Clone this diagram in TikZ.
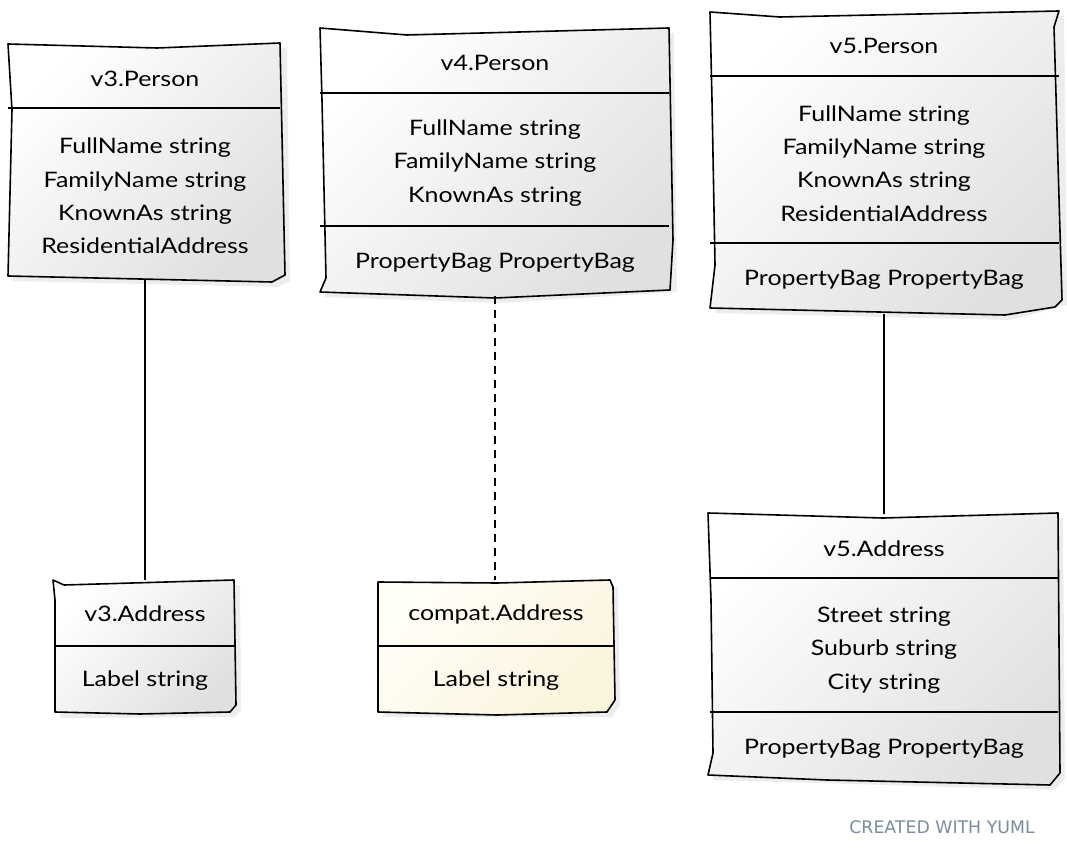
\documentclass[tikz,border=0pt]{standalone}
\usepackage{fontspec}
\setmainfont{Lato}[FakeStretch=1.17]
\newfontfamily\footfont{DejaVu Sans}
\definecolor{footc}{HTML}{7B8CA2}
\definecolor{yelA}{HTML}{FFFEF7}
\definecolor{yelB}{HTML}{FBF4DD}
\begin{document}
\begin{tikzpicture}[x=0.75pt,y=-0.75pt,
  outline/.style={draw=black,line width=1.2pt,line join=round,top color=white,bottom color=black!12,shading angle=45},
  youtline/.style={draw=black,line width=1.2pt,line join=round,top color=yelA,bottom color=yelB,shading angle=45},
  shadowpath/.style={fill=black,opacity=0.07},
  divider/.style={line width=1.2pt},
  cls/.style={inner sep=0pt,outer sep=0pt},
  txt/.style={font=\fontsize{16}{25}\selectfont,align=center,inner sep=0pt},
  conn/.style={line width=1.2pt},
  dconn/.style={line width=1.2pt,dash pattern=on 6pt off 4.5pt}]
\useasboundingbox (0,0) rectangle (1067,855);
\fill[white] (0,0) rectangle (1067,855);

% ---- shadows
\fill[shadowpath] (13,49) -- (287,48) -- (290,281) -- (277,287) -- (13,281) -- cycle;
\fill[shadowpath] (325,33) -- (674,33) -- (677,292) -- (500,303) -- (325,297) -- cycle;
\fill[shadowpath] (715,17) -- (1064,16) -- (1067,305) -- (1010,320) -- (715,313) -- cycle;
\fill[shadowpath] (59,585) -- (240,585) -- (241,710) -- (235,717) -- (60,718) -- cycle;
\fill[shadowpath] (383,587) -- (618,587) -- (620,705) -- (612,717) -- (383,717) -- cycle;
\fill[shadowpath] (713,519) -- (1063,518) -- (1065,778) -- (1055,790) -- (713,780) -- cycle;

% ---- v3.Person
\draw[outline] (8,44) -- (157,48) -- (280,43) -- (285,275) -- (272,282) -- (8,276) -- (12,110) -- cycle;
\draw[divider] (8,108) -- (280,108);
\node[cls,minimum width=205.5pt,minimum height=177pt] (v3p) at (145,162) {};
\node[txt] (v3pt) at (145,79) {v3.Person};
\node[txt] (v3pa) at (145,196) {FullName string\\FamilyName string\\KnownAs string\\ResidentialAddress};

% ---- v4.Person
\draw[outline] (320,28) -- (407,35) -- (669,28) -- (673,240) -- (670,290) -- (495,298) -- (320,292) -- (326,278) -- (322,100) -- cycle;
\draw[divider] (320,93) -- (669,93);
\draw[divider] (320,226) -- (669,226);
\node[cls,minimum width=262.5pt,minimum height=201pt] (v4p) at (495,162) {};
\node[txt] (v4pt) at (495,63) {v4.Person};
\node[txt] (v4pa) at (495,163) {FullName string\\FamilyName string\\KnownAs string};
\node[txt] (v4pb) at (495,263) {PropertyBag PropertyBag};

% ---- v5.Person
\draw[outline] (710,12) -- (780,17) -- (1059,11) -- (1054,27) -- (1062,300) -- (1055,307) -- (1005,315) -- (710,308) -- (715,265) -- (712,100) -- cycle;
\draw[divider] (710,76) -- (1059,76);
\draw[divider] (710,243) -- (1059,243);
\node[cls,minimum width=262.5pt,minimum height=226.5pt] (v5p) at (884,163) {};
\node[txt] (v5pt) at (884,46) {v5.Person};
\node[txt] (v5pa) at (884,163.5) {FullName string\\FamilyName string\\KnownAs string\\ResidentialAddress};
\node[txt] (v5pb) at (884,280) {PropertyBag PropertyBag};

% ---- v3.Address
\draw[outline] (53,580) -- (64,585) -- (234,580) -- (236,705) -- (230,712) -- (140,714) -- (55,712) -- (55,600) -- cycle;
\draw[divider] (54,646) -- (235,646);
\node[cls,minimum width=135.75pt,minimum height=99pt] (v3a) at (145,646) {};
\node[txt] (v3at) at (145,614) {v3.Address};
\node[txt] (v3aa) at (145,681) {Label string};

% ---- compat.Address
\draw[youtline] (378,582) -- (497,583) -- (610,580) -- (613,587) -- (615,700) -- (607,712) -- (497,715) -- (378,712) -- cycle;
\draw[divider] (379,646) -- (614,646);
\node[cls,minimum width=176.25pt,minimum height=99pt] (ca) at (495,646) {};
\node[txt] (cat) at (496,614) {compat.Address};
\node[txt] (caa) at (496,681) {Label string};

% ---- v5.Address
\draw[outline] (708,513) -- (883,518) -- (1058,513) -- (1060,773) -- (1050,785) -- (827,780) -- (708,775) -- (713,753) -- (711,600) -- cycle;
\draw[divider] (710,578) -- (1058,578);
\draw[divider] (710,712) -- (1058,712);
\node[cls,minimum width=262.5pt,minimum height=201.75pt] (v5a) at (884,648.5) {};
\node[txt] (v5at) at (884,549) {v5.Address};
\node[txt] (v5aa) at (884,650) {Street string\\Suburb string\\City string};
\node[txt] (v5ab) at (884,749) {PropertyBag PropertyBag};

% ---- connectors
\draw[conn] (v3p) -- (v3a);
\draw[dconn] (v4p) -- (ca);
\draw[conn] (v5p) -- (v5a);

% ---- footer
\node[font=\footfont\fontsize{13}{15}\selectfont,text=footc,inner sep=0pt] (foot) at (942,827) {CREATED WITH YUML};
\end{tikzpicture}
\end{document}
